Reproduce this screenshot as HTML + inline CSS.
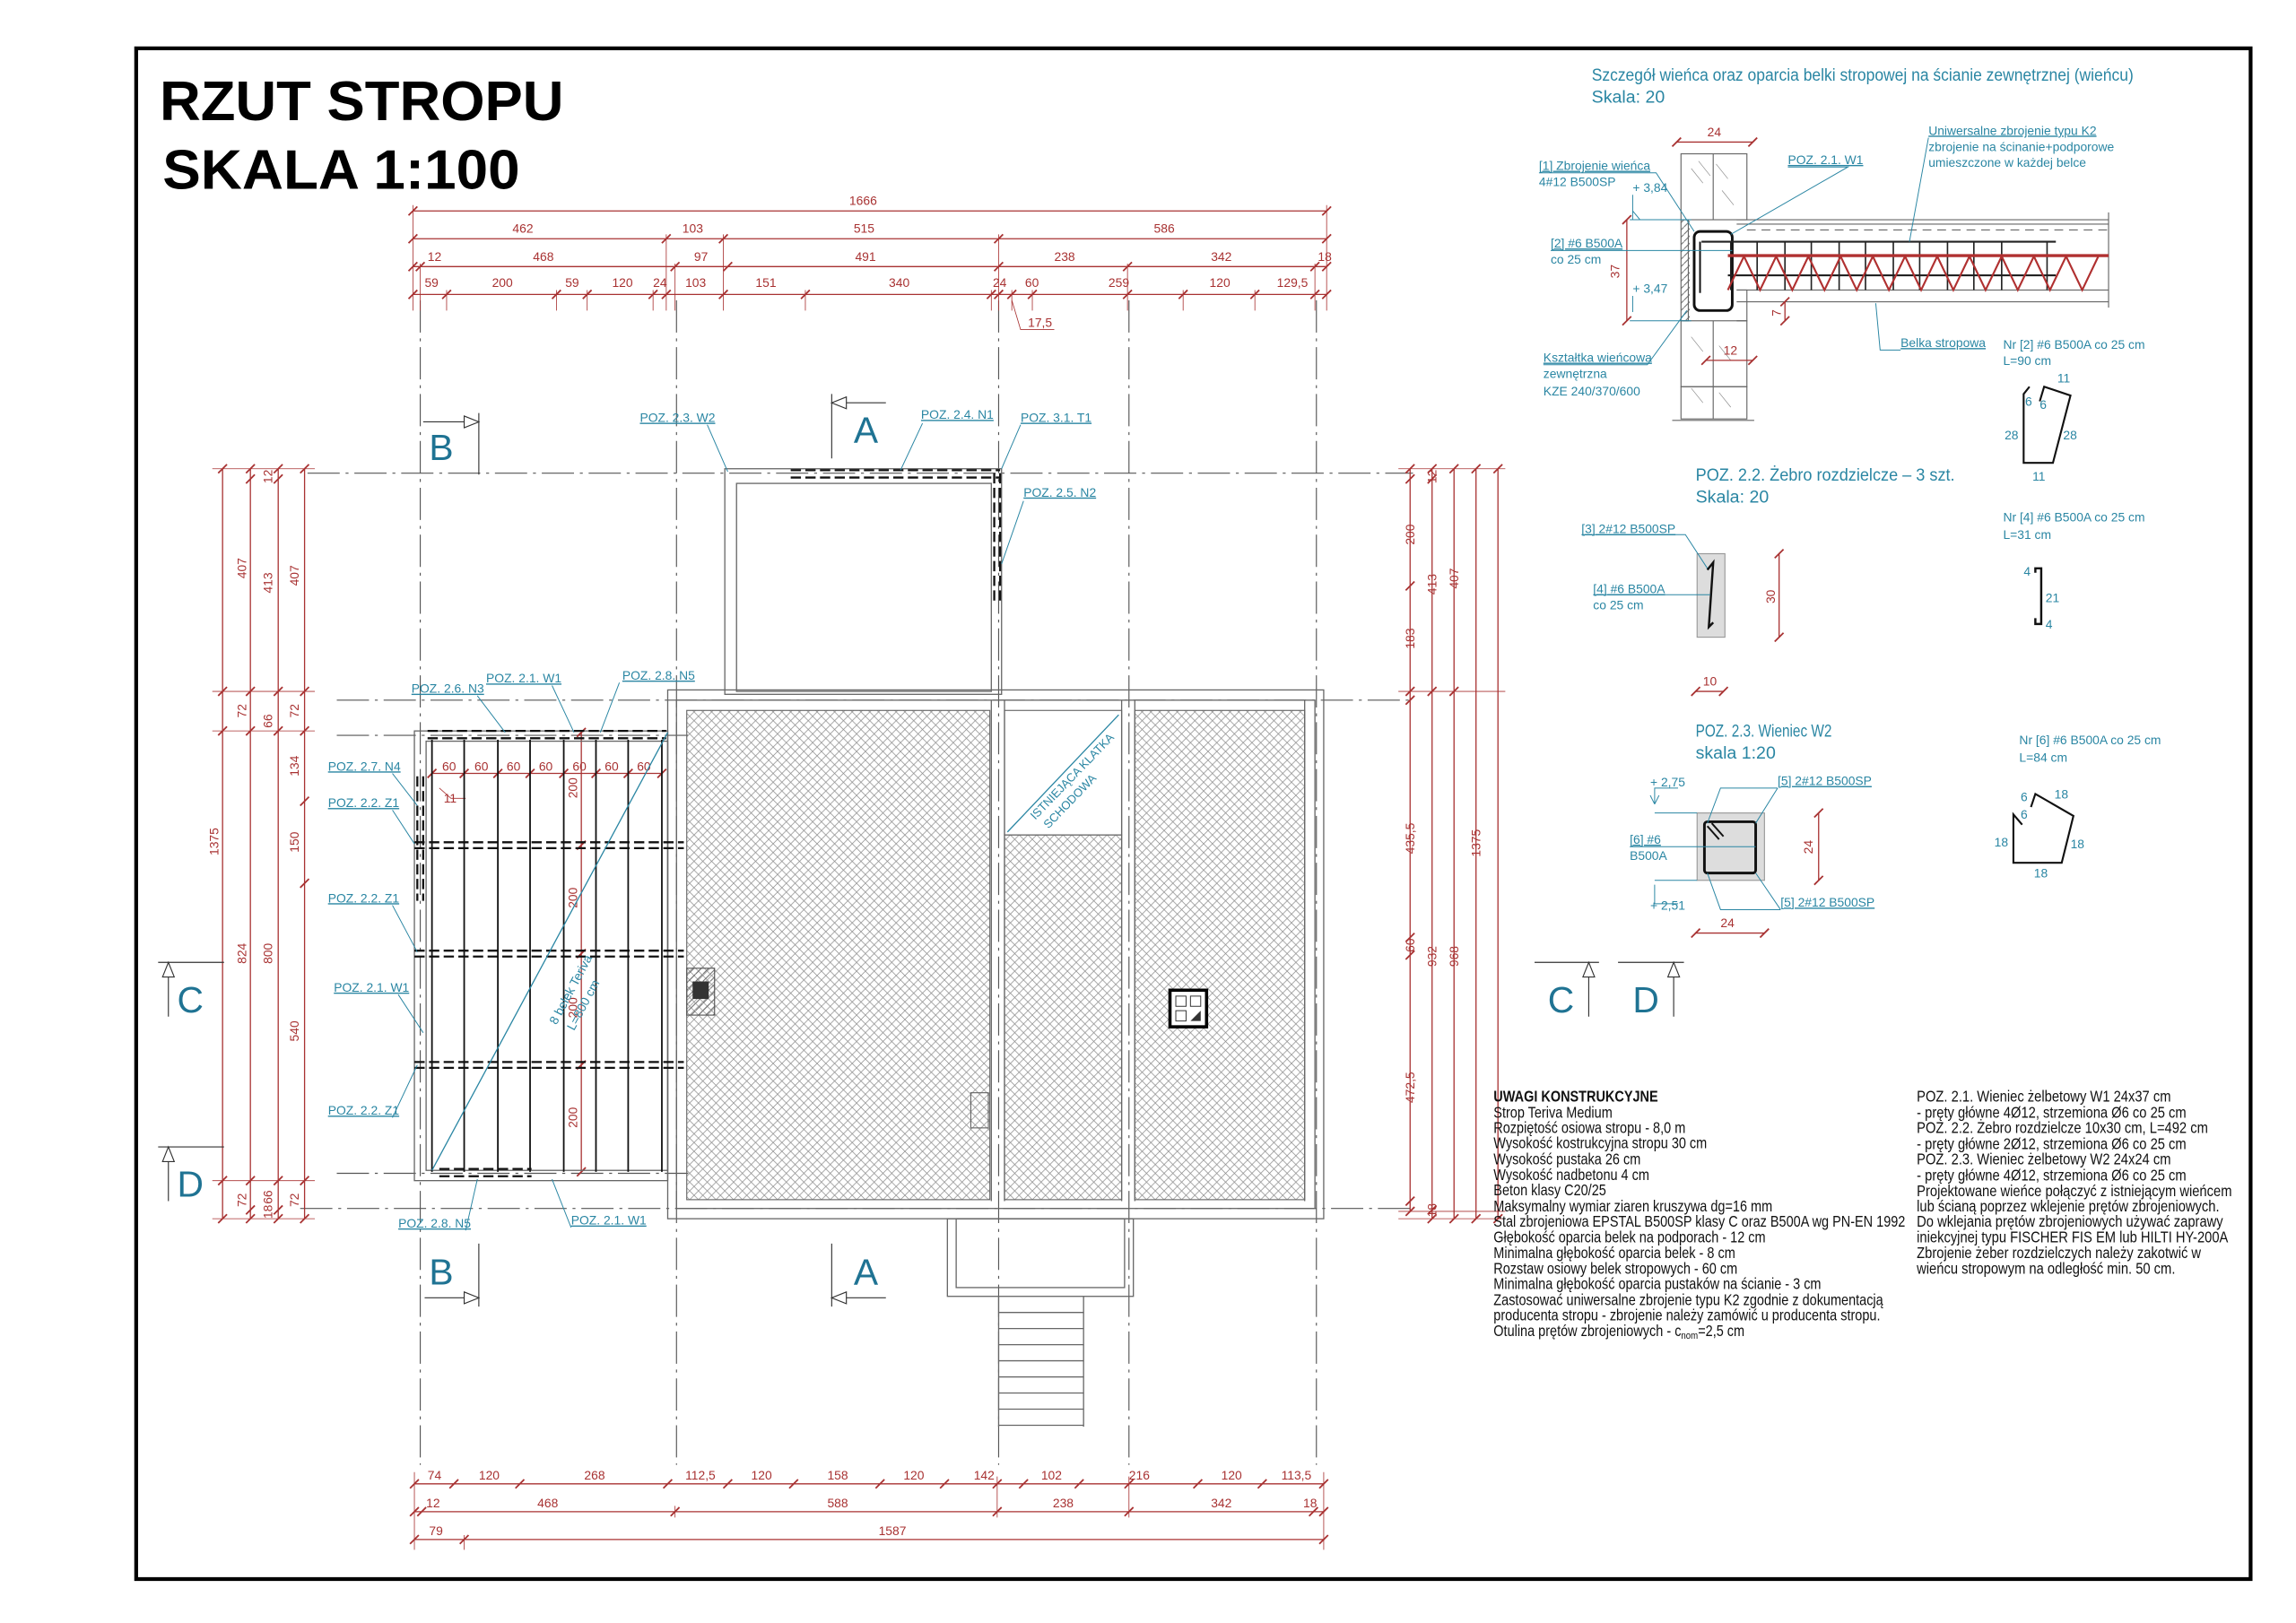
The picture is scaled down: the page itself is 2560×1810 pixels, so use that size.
<!DOCTYPE html>
<html><head><meta charset="utf-8"><style>
html,body{margin:0;padding:0;background:#fff}
svg{display:block}
text{font-family:"Liberation Sans",sans-serif}
.r{fill:#a83232;font-size:8.5px}
.t{fill:#2a86a3;font-size:8.5px}
.tu{fill:#2a86a3;font-size:8.5px;text-decoration:underline}
.big{fill:#1f7393;font-size:25px}
.n{fill:#111;font-size:10.5px}
</style></head><body>
<svg width="2560" height="1810" viewBox="0 0 1568 1108" preserveAspectRatio="none" xmlns="http://www.w3.org/2000/svg">
<defs>
<marker id="tk" markerUnits="userSpaceOnUse" markerWidth="10" markerHeight="10" refX="5" refY="5" orient="0" overflow="visible"><path d="M2,8 L8,2" stroke="#a83232" stroke-width="1.1"/></marker>
<pattern id="h" width="6" height="6" patternUnits="userSpaceOnUse"><path d="M0,0L6,6M6,0L0,6" stroke="#8a8a8a" stroke-width="0.45"/></pattern>
<pattern id="wh" width="5" height="5" patternUnits="userSpaceOnUse"><path d="M0,5L5,0" stroke="#666" stroke-width="0.6"/></pattern>
</defs>
<rect x="93" y="33" width="1444" height="1045" fill="none" stroke="#000" stroke-width="2.6"/>
<text x="109" y="82" textLength="276" lengthAdjust="spacingAndGlyphs" style="font-size:38px;font-weight:bold;fill:#000">RZUT STROPU</text>
<text x="111" y="129" textLength="244" lengthAdjust="spacingAndGlyphs" style="font-size:38px;font-weight:bold;fill:#000">SKALA 1:100</text>

<g stroke="#555" stroke-width="0.7" stroke-dasharray="22,4,2,4" fill="none">
<path d="M287,205V1000M462,205V1000M682,205V1000M771,205V1000M899,205V1000"/>
<path d="M210,323H965M230,478H965M230,502H470M230,801H470M205,825H965"/>
</g>
<g stroke="#a83232" stroke-width="0.8" fill="none" marker-start="url(#tk)" marker-mid="url(#tk)" marker-end="url(#tk)">
<polyline points="282,144 906,144"/>
<polyline points="282,163 455,163 494,163 682,163 906,163"/>
<polyline points="282,182 287,182 461,182 497,182 682,182 770,182 898,182 906,182"/>
<polyline points="282,201 305,201 380,201 401,201 446,201 455,201 494,201 550,201 677,201 682,201 691,201 705,201 770,201 808,201 857,201 898,201 906,201"/>
<polyline points="283,1013 310,1013 355,1013 456,1013 497,1013 542,1013 601,1013 645,1013 681,1013 699,1013 737,1013 771,1013 818,1013 862,1013 904,1013"/>
<polyline points="283,1032 288,1032 461,1032 681,1032 771,1032 897,1032 904,1032"/>
<polyline points="283,1051 317,1051 904,1051"/>
<polyline points="152,320 152,472 152,499 152,806 152,832"/>
<polyline points="171,320 171,327 171,472 171,499 171,806 171,826 171,832"/>
<polyline points="190,320 190,327 190,472 190,499 190,806 190,826 190,832"/>
<polyline points="208,320 208,472 208,499 208,547 208,603 208,806 208,832"/>
<polyline points="963,320 963,327 963,400 963,472 963,478 963,640 963,652 963,820 963,827"/>
<polyline points="978,320 978,327 978,472 978,826 978,832"/>
<polyline points="993,320 993,472 993,832"/>
<polyline points="1008,320 1008,832"/>
<polyline points="1023,320 1023,832"/>
<polyline points="295,528 317,528 340,528 362,528 385,528 407,528 429,528 452,528"/>
<polyline points="397,500 397,577 397,651 397,727 397,800"/>
</g>
<g stroke="#a83232" stroke-width="0.5" fill="none">
<path d="M282,140V212M455,160V212M494,160V212M682,160V212M906,140V212M287,180V212M461,180V212M770,180V212M898,180V212M305,198V212M380,198V212M401,198V212M446,198V212M550,198V212M677,198V212M691,198V212M705,198V212M808,198V212M857,198V212"/>
<path d="M691,205L697,225H720"/>
<path d="M283,1005V1058M904,1005V1058M317,1048V1058M681,1008V1036M461,1028V1036M771,1008V1036"/>
<path d="M145,320H215M145,472H215M145,499H215M145,806H215M145,832H215"/>
<path d="M955,320H1028M955,472H1028M955,827H1028M955,832H1028"/>
<path d="M300,538L308,545H318"/>
</g>
<g class="r">
<text x="580" y="140">1666</text>
<text x="350" y="159">462</text><text x="466" y="159">103</text><text x="583" y="159">515</text><text x="788" y="159">586</text>
<text x="292" y="178">12</text><text x="364" y="178">468</text><text x="474" y="178">97</text><text x="584" y="178">491</text><text x="720" y="178">238</text><text x="827" y="178">342</text><text x="900" y="178">18</text>
<text x="290" y="196">59</text><text x="336" y="196">200</text><text x="386" y="196">59</text><text x="418" y="196">120</text><text x="446" y="196">24</text><text x="468" y="196">103</text><text x="516" y="196">151</text><text x="607" y="196">340</text><text x="678" y="196">24</text><text x="700" y="196">60</text><text x="757" y="196">259</text><text x="826" y="196">120</text><text x="872" y="196">129,5</text>
<text x="702" y="223">17,5</text>
<text x="292" y="1010">74</text><text x="327" y="1010">120</text><text x="399" y="1010">268</text><text x="468" y="1010">112,5</text><text x="513" y="1010">120</text><text x="565" y="1010">158</text><text x="617" y="1010">120</text><text x="665" y="1010">142</text><text x="711" y="1010">102</text><text x="771" y="1010">216</text><text x="834" y="1010">120</text><text x="875" y="1010">113,5</text>
<text x="291" y="1029">12</text><text x="367" y="1029">468</text><text x="565" y="1029">588</text><text x="719" y="1029">238</text><text x="827" y="1029">342</text><text x="890" y="1029">18</text>
<text x="293" y="1048">79</text><text x="600" y="1048">1587</text>
<text x="302" y="526">60</text><text x="324" y="526">60</text><text x="346" y="526">60</text><text x="368" y="526">60</text><text x="391" y="526">60</text><text x="413" y="526">60</text><text x="435" y="526">60</text>
<text x="303" y="548">11</text>
<g transform="rotate(-90)">
<text x="-395" y="168">407</text><text x="-405" y="186">413</text><text x="-400" y="204">407</text>
<text x="-330" y="186">12</text>
<text x="-490" y="168">72</text><text x="-497" y="186">66</text><text x="-490" y="204">72</text>
<text x="-530" y="204">134</text><text x="-582" y="204">150</text><text x="-711" y="204">540</text>
<text x="-584" y="149">1375</text><text x="-658" y="168">824</text><text x="-658" y="186">800</text>
<text x="-824" y="168">72</text><text x="-822" y="186">66</text><text x="-832" y="186">18</text><text x="-824" y="204">72</text>
<text x="-545" y="394">200</text><text x="-620" y="394">200</text><text x="-695" y="394">200</text><text x="-770" y="394">200</text>
<text x="-372" y="966">200</text><text x="-443" y="966">183</text><text x="-583" y="966">435,5</text><text x="-650" y="966">60</text><text x="-753" y="966">472,5</text>
<text x="-330" y="981">12</text><text x="-406" y="981">413</text><text x="-660" y="981">932</text><text x="-831" y="981">18</text>
<text x="-402" y="996">407</text><text x="-660" y="996">968</text>
<text x="-585" y="1011">1375</text>
</g>
</g>

<g fill="none" stroke="#666" stroke-width="0.8">
<rect x="456" y="471" width="448" height="361"/>
<rect x="462" y="478" width="436" height="347"/>
<rect x="495" y="320" width="189" height="154"/>
<rect x="503" y="330" width="174" height="142"/>
<rect x="283" y="499" width="173" height="307"/>
<rect x="291" y="506" width="165" height="293"/>
<rect x="647" y="832" width="127" height="53"/>
<rect x="653" y="832" width="115" height="47"/>
<path d="M682,885V974M740,885V974"/>
<path d="M682,896H740M682,907H740M682,918H740M682,929H740M682,940H740M682,951H740M682,962H740M682,973H740"/>
<path d="M677,478V820M686,478V820M766,478V820M775,478V820M891,478V820"/>
</g>
<rect x="469" y="485" width="207" height="334" fill="url(#h)" stroke="#666" stroke-width="0.7"/>
<rect x="686" y="570" width="80" height="249" fill="url(#h)" stroke="#666" stroke-width="0.7"/>
<rect x="775" y="485" width="116" height="334" fill="url(#h)" stroke="#666" stroke-width="0.7"/>
<rect x="686" y="485" width="80" height="85" fill="none" stroke="#666" stroke-width="0.7"/>
<path d="M688,568L764,488" stroke="#2a86a3" stroke-width="0.8"/>
<text class="t" transform="translate(707,560) rotate(-46)" style="font-size:8px">ISTNIEJĄCA KLATKA</text>
<text class="t" transform="translate(716,566) rotate(-46)" style="font-size:8px">SCHODOWA</text>
<rect x="469" y="661" width="19" height="32" fill="url(#wh)" stroke="#555" stroke-width="0.7"/>
<rect x="473" y="670" width="11" height="12" fill="#333"/>
<rect x="799" y="676" width="25" height="25" fill="#fff" stroke="#000" stroke-width="2.2"/>
<path d="M803,680h7v7h-7zM813,680h7v7h-7zM803,690h7v7h-7z" fill="none" stroke="#333" stroke-width="0.6"/>
<path d="M813,697h7v-7z" fill="#333"/>
<rect x="663" y="746" width="12" height="24" fill="none" stroke="#666" stroke-width="0.7"/>
<g stroke="#111" stroke-width="1.1">
<path d="M295,505V800M317,505V800M340,505V800M362,505V800M385,505V800M407,505V800M429,505V800M452,505V800"/>
</g>
<g stroke="#111" stroke-width="1.4" stroke-dasharray="7,3" fill="none">
<path d="M283,575H467M283,579H467M283,649H467M283,653H467M283,725H467M283,729H467"/>
<path d="M292,499H455M292,504H455M300,798H363M300,803H363"/>
<path d="M540,321H683M540,326H683M679,323V413M683,323V413"/>
<path d="M285,530V615M289,530V615"/>
</g>
<path d="M295,799L456,500" stroke="#2a86a3" stroke-width="0.8"/>
<text class="t" transform="translate(380,700) rotate(-62)">8 belek Teriva</text>
<text class="t" transform="translate(392,704) rotate(-62)">L=800 cm</text>
<g stroke="#333" stroke-width="0.7" fill="#fff">
<path d="M289,288H327M327,282V324" fill="none"/><path d="M317,284L327,288L317,292Z"/>
<path d="M290,886H327M327,849V892" fill="none"/><path d="M317,882L327,886L317,890Z"/>
<path d="M605,275H568M568,269V313" fill="none"/><path d="M578,271L568,275L578,279Z"/>
<path d="M605,886H568M568,849V892" fill="none"/><path d="M578,882L568,886L578,890Z"/>
<path d="M108,657H153M115,657V694" fill="none"/><path d="M111,667L115,657L119,667Z"/>
<path d="M108,783H153M115,783V820" fill="none"/><path d="M111,793L115,783L119,793Z"/>
<path d="M1048,657H1092M1085,657V694" fill="none"/><path d="M1081,667L1085,657L1089,667Z"/>
<path d="M1105,657H1150M1143,657V694" fill="none"/><path d="M1139,667L1143,657L1147,667Z"/>
</g>
<g class="big">
<text x="293" y="314">B</text><text x="293" y="877">B</text>
<text x="583" y="302">A</text><text x="583" y="877">A</text>
<text x="121" y="691">C</text><text x="121" y="817">D</text>
<text x="1057" y="691">C</text><text x="1115" y="691">D</text>
</g>
<g class="tu">
<text x="437" y="288">POZ. 2.3. W2</text><text x="629" y="286">POZ. 2.4. N1</text><text x="697" y="288">POZ. 3.1. T1</text><text x="699" y="339">POZ. 2.5. N2</text>
<text x="281" y="473">POZ. 2.6. N3</text><text x="332" y="466">POZ. 2.1. W1</text><text x="425" y="464">POZ. 2.8. N5</text>
<text x="224" y="526">POZ. 2.7. N4</text><text x="224" y="551">POZ. 2.2. Z1</text><text x="224" y="616">POZ. 2.2. Z1</text><text x="228" y="677">POZ. 2.1. W1</text><text x="224" y="761">POZ. 2.2. Z1</text>
<text x="272" y="838">POZ. 2.8. N5</text><text x="390" y="836">POZ. 2.1. W1</text>
</g>
<g stroke="#2a86a3" stroke-width="0.6" fill="none">
<path d="M483,290L497,322M630,289L615,321M697,290L684,320M699,342L684,385M326,475L345,500M377,468L392,500M423,466L410,500M268,528L285,550M268,553L283,576M268,618L285,650M272,679L289,705M268,763L285,727M318,840L326,805M390,838L377,805"/>
</g>

<text class="t" x="1087" y="55" textLength="370" lengthAdjust="spacingAndGlyphs" style="font-size:12px">Szczegół wieńca oraz oparcia belki stropowej na ścianie zewnętrznej (wieńcu)</text>
<text class="t" x="1087" y="70" style="font-size:12px">Skala: 20</text>
<g stroke="#666" stroke-width="0.7" fill="none">
<rect x="1148" y="105" width="45" height="45"/><rect x="1148" y="219" width="45" height="45"/><rect x="1148" y="264" width="45" height="22"/>
<path d="M1170,105V150M1170,219V286M1142,287H1198"/>
<path d="M1148,150V219H1153V150ZM1186,198H1193V219H1186"/>
<path d="M1186,150H1440M1186,153H1440M1186,198H1440M1186,206H1440M1440,145V210"/>
<path d="M1193,157H1440" stroke-dasharray="6,4"/>
</g>
<rect x="1148" y="150" width="6" height="69" fill="url(#wh)"/>
<g stroke="#888" stroke-width="0.4"><path d="M1155,115l8,10M1160,110l8,10M1172,112l8,10M1176,130l8,10M1155,230l8,10M1174,236l8,10M1155,265l8,10M1174,268l8,10"/></g>
<rect x="1157" y="158" width="26" height="54" rx="4" fill="none" stroke="#111" stroke-width="1.8"/>
<path d="M1161,165V200" stroke="#111" stroke-width="1.2"/>
<g stroke="#222" stroke-width="1.3"><path d="M1162,165H1404M1180,188H1404"/></g>
<g stroke="#222" stroke-width="1"><path d="M1182,165V198M1200,165V198M1219,165V198M1237,165V198M1256,165V198M1274,165V198M1293,165V198M1311,165V198M1330,165V198M1348,165V198M1367,165V198M1398,165V198"/></g>
<path d="M1180,174.5H1440" stroke="#b03030" stroke-width="2"/>
<polyline points="1180,198 1191,175 1202,198 1213,175 1224,198 1235,175 1246,198 1257,175 1268,198 1279,175 1290,198 1301,175 1312,198 1323,175 1334,198 1345,175 1356,198 1367,175 1378,198 1389,175 1400,198 1411,175 1422,198 1433,175" fill="none" stroke="#b03030" stroke-width="1.3"/>
<g stroke="#a83232" stroke-width="0.8" fill="none" marker-start="url(#tk)" marker-end="url(#tk)">
<polyline points="1145,97 1197,97"/><polyline points="1111,150 1111,219"/><polyline points="1219,206 1219,219"/><polyline points="1165,246 1197,246"/>
<polyline points="1215,378 1215,435"/><polyline points="1158,472 1177,472"/>
<polyline points="1242,555 1242,601"/><polyline points="1158,637 1205,637"/>
</g>
<g class="r"><text x="1166" y="93">24</text><text transform="translate(1106,190) rotate(-90)">37</text><text transform="translate(1216,216) rotate(-90)">7</text><text x="1177" y="242">12</text>
<text transform="translate(1212,412) rotate(-90)">30</text><text x="1163" y="468">10</text><text transform="translate(1238,583) rotate(-90)">24</text><text x="1175" y="633">24</text></g>
<g class="t">
<text x="1051" y="116" text-decoration="underline">[1] Zbrojenie wieńca</text><text x="1051" y="127">4#12 B500SP</text>
<text x="1115" y="131">+ 3,84</text><text x="1115" y="200">+ 3,47</text>
<text x="1221" y="112" text-decoration="underline">POZ. 2.1. W1</text>
<text x="1317" y="92" text-decoration="underline">Uniwersalne zbrojenie typu K2</text><text x="1317" y="103">zbrojenie na ścinanie+podporowe</text><text x="1317" y="114">umieszczone w każdej belce</text>
<text x="1059" y="169" text-decoration="underline">[2] #6 B500A</text><text x="1059" y="180">co 25 cm</text>
<text x="1054" y="247" text-decoration="underline">Kształtka wieńcowa</text><text x="1054" y="258">zewnętrzna</text><text x="1054" y="270">KZE 240/370/600</text>
<text x="1298" y="237" text-decoration="underline">Belka stropowa</text>
<text x="1368" y="238">Nr [2] #6 B500A co 25 cm</text><text x="1368" y="249">L=90 cm</text>
<text x="1405" y="261">11</text><text x="1369" y="300">28</text><text x="1409" y="300">28</text><text x="1388" y="328">11</text><text x="1383" y="277">6</text><text x="1393" y="279">6</text>
</g>
<g stroke="#2a86a3" stroke-width="0.6" fill="none">
<path d="M1051,118H1131L1157,158M1221,114H1262L1182,160M1317,94L1304,165M1059,171H1183M1054,249H1125L1152,212M1298,239H1284L1281,207M1115,133V144L1120,150H1115V144M1113,150H1155M1113,219H1155M1115,202V213"/>
</g>
<path d="M1386,264 1382,269 1382,316 1402,316 1414,270 1396,264 1393,274" fill="none" stroke="#111" stroke-width="1.3"/>
<text class="t" x="1158" y="328" textLength="177" lengthAdjust="spacingAndGlyphs" style="font-size:12px">POZ. 2.2. Żebro rozdzielcze – 3 szt.</text>
<text class="t" x="1158" y="343" style="font-size:12px">Skala: 20</text>
<rect x="1159" y="378" width="19" height="57" fill="#ddd" stroke="#999" stroke-width="0.7"/>
<path d="M1166,389L1170,384L1167,428L1170,425" fill="none" stroke="#111" stroke-width="1.5"/>
<g class="t"><text x="1080" y="364" text-decoration="underline">[3] 2#12 B500SP</text><text x="1088" y="405" text-decoration="underline">[4] #6 B500A</text><text x="1088" y="416">co 25 cm</text>
<text x="1368" y="356">Nr [4] #6 B500A co 25 cm</text><text x="1368" y="368">L=31 cm</text><text x="1382" y="393">4</text><text x="1397" y="411">21</text><text x="1397" y="429">4</text></g>
<g stroke="#2a86a3" stroke-width="0.6" fill="none"><path d="M1080,365H1151L1166,388M1088,406H1168"/></g>
<path d="M1390,391V388H1394V426H1390V422" fill="none" stroke="#111" stroke-width="1.5"/>
<text class="t" x="1158" y="503" textLength="93" lengthAdjust="spacingAndGlyphs" style="font-size:12px">POZ. 2.3. Wieniec W2</text>
<text class="t" x="1158" y="518" style="font-size:12px">skala 1:20</text>
<rect x="1159" y="555" width="46" height="46" fill="#ddd" stroke="#999" stroke-width="0.7"/>
<rect x="1164" y="561" width="35" height="35" rx="2" fill="none" stroke="#111" stroke-width="1.8"/>
<path d="M1166,564l8,9M1169,562l8,9" stroke="#111" stroke-width="1.2"/>
<g class="t"><text x="1127" y="537">+ 2,75</text><text x="1214" y="536" text-decoration="underline">[5] 2#12 B500SP</text><text x="1113" y="576" text-decoration="underline">[6] #6</text><text x="1113" y="587">B500A</text><text x="1127" y="621">+ 2,51</text><text x="1216" y="619" text-decoration="underline">[5] 2#12 B500SP</text>
<text x="1379" y="508">Nr [6] #6 B500A co 25 cm</text><text x="1379" y="520">L=84 cm</text><text x="1380" y="547">6</text><text x="1403" y="545">18</text><text x="1380" y="559">6</text><text x="1362" y="578">18</text><text x="1414" y="579">18</text><text x="1389" y="599">18</text></g>
<g stroke="#2a86a3" stroke-width="0.6" fill="none"><path d="M1130,549V538H1146M1130,549L1127,543M1130,549L1133,543M1130,555H1159M1130,604V617H1146M1130,601H1159M1113,578H1199M1214,538H1175L1166,562M1214,538L1199,562M1216,621H1175L1166,596M1216,621L1199,596"/></g>
<path d="M1381,563 1375,556 1375,589 1408,589 1416,557 1390,542 1387,551" fill="none" stroke="#111" stroke-width="1.3"/>
<g class="n" transform="translate(1020,0) scale(0.845,1)">
<text x="0" y="752" style="font-weight:bold">UWAGI KONSTRUKCYJNE</text>
<text x="0" y="763">Strop Teriva Medium</text>
<text x="0" y="773.5">Rozpiętość osiowa stropu - 8,0 m</text>
<text x="0" y="784">Wysokość kostrukcyjna stropu 30 cm</text>
<text x="0" y="795">Wysokość pustaka 26 cm</text>
<text x="0" y="805.5">Wysokość nadbetonu 4 cm</text>
<text x="0" y="816">Beton klasy C20/25</text>
<text x="0" y="827">Maksymalny wymiar ziaren kruszywa dg=16 mm</text>
<text x="0" y="837.5">Stal zbrojeniowa EPSTAL B500SP klasy C oraz B500A wg PN-EN 1992</text>
<text x="0" y="848">Głębokość oparcia belek na podporach - 12 cm</text>
<text x="0" y="859">Minimalna głębokość oparcia belek  - 8 cm</text>
<text x="0" y="869.5">Rozstaw osiowy belek stropowych - 60 cm</text>
<text x="0" y="880">Minimalna głębokość oparcia pustaków na ścianie - 3 cm</text>
<text x="0" y="891">Zastosować uniwersalne zbrojenie typu K2 zgodnie z dokumentacją</text>
<text x="0" y="901.5">producenta stropu - zbrojenie należy zamówić u producenta stropu.</text>
<text x="0" y="912">Otulina prętów zbrojeniowych - c<tspan style="font-size:7px" dy="2">nom</tspan><tspan dy="-2">=2,5 cm</tspan></text>
</g>
<g class="n" transform="translate(1309,0) scale(0.86,1)">
<text x="0" y="752">POZ. 2.1. Wieniec żelbetowy W1  24x37 cm</text>
<text x="0" y="763">- pręty główne 4Ø12, strzemiona Ø6 co 25 cm</text>
<text x="0" y="773.5">POZ. 2.2. Żebro rozdzielcze 10x30 cm, L=492 cm</text>
<text x="0" y="784.5">- pręty główne 2Ø12, strzemiona Ø6 co 25 cm</text>
<text x="0" y="795">POZ. 2.3. Wieniec żelbetowy W2  24x24 cm</text>
<text x="0" y="806">- pręty główne 4Ø12, strzemiona Ø6 co 25 cm</text>
<text x="0" y="816.5">Projektowane wieńce połączyć z istniejącym wieńcem</text>
<text x="0" y="827">lub ścianą poprzez wklejenie prętów zbrojeniowych.</text>
<text x="0" y="837.5">Do wklejania prętów zbrojeniowych używać zaprawy</text>
<text x="0" y="848">iniekcyjnej typu FISCHER FIS EM lub HILTI HY-200A</text>
<text x="0" y="859">Zbrojenie żeber rozdzielczych należy zakotwić w</text>
<text x="0" y="869.5">wieńcu stropowym na odległość min. 50 cm.</text>
</g>
</svg>
</body></html>
